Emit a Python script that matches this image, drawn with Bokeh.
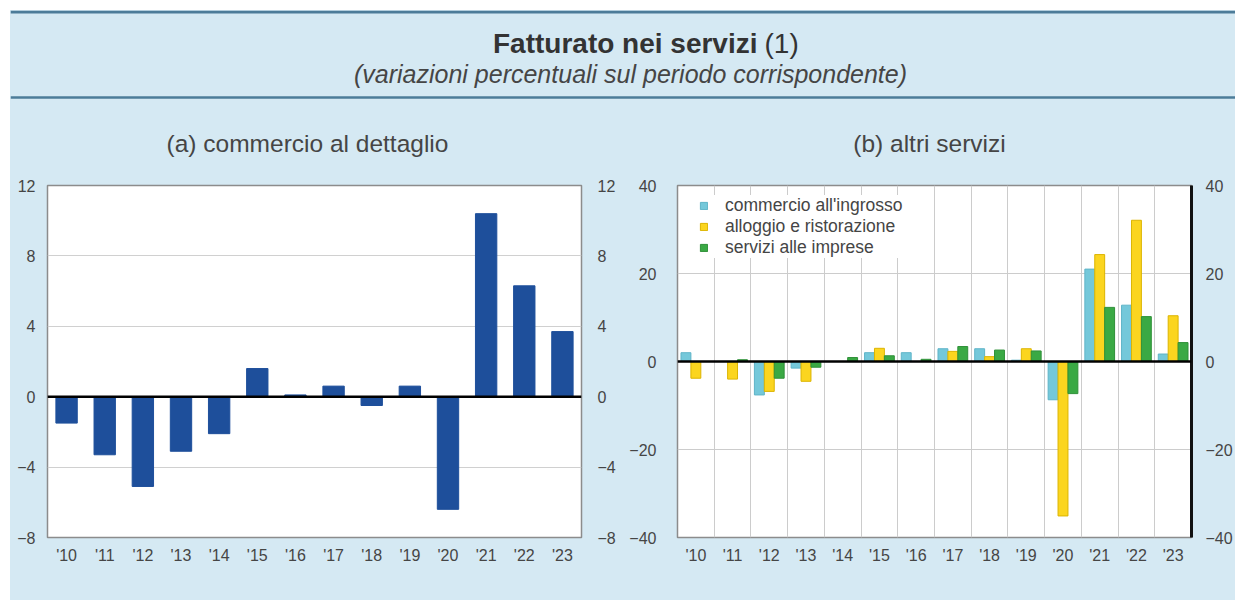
from bokeh.plotting import figure
from bokeh.models import Range1d, Span, Label, FixedTicker, Grid, LinearAxis, ColumnDataSource, Legend, LegendItem, Spacer
from bokeh.layouts import column, row
from bokeh.transform import dodge
from bokeh.embed import file_html
from bokeh.resources import INLINE

years = ["'10", "'11", "'12", "'13", "'14", "'15", "'16", "'17", "'18", "'19", "'20", "'21", "'22", "'23"]
retail = [-1.5, -3.3, -5.1, -3.1, -2.1, 1.6, 0.1, 0.6, -0.5, 0.6, -6.4, 10.4, 6.3, 3.7]
wholesale = [2.0, 0.0, -7.6, -1.5, 0.0, 2.0, 2.0, 2.9, 2.9, 0.3, -8.7, 21.0, 12.8, 1.7]
hospitality = [-3.8, -4.0, -6.8, -4.5, 0.0, 3.0, 0.0, 2.3, 1.1, 2.9, -35.1, 24.3, 32.1, 10.4]
business = [0.0, 0.4, -3.8, -1.3, 0.9, 1.3, 0.5, 3.4, 2.6, 2.4, -7.3, 12.3, 10.2, 4.3]
series_names = ["commercio all'ingrosso", "alloggio e ristorazione", "servizi alle imprese"]
left_ticks = [-8, -4, 0, 4, 8, 12]
right_ticks = [-40, -20, 0, 20, 40]

BG = "#d5e9f3"
LINE = "#4c7c99"
TXT = "#454545"
FONT = "Liberation Sans"
NAVY = "#1e4f9b"
CYAN = "#74c8da"
YELLOW = "#fbd51f"
GREEN = "#3aa944"

idx = list(range(len(years)))
src = ColumnDataSource(dict(x=idx, retail=retail, w=wholesale, h=hospitality, b=business))

# ---------- header (coordinates = page pixels) ----------
hdr = figure(width=1225, height=148, x_range=Range1d(10, 1235), y_range=Range1d(158, 10),
             toolbar_location=None, output_backend="svg", min_border=0)
hdr.axis.visible = False
hdr.grid.visible = False
hdr.outline_line_color = None
hdr.background_fill_color = BG
hdr.border_fill_color = BG
hdr.add_layout(Span(location=11.5, dimension="width", line_color=LINE, line_width=3))
hdr.add_layout(Span(location=97, dimension="width", line_color=LINE, line_width=2.5))
hdr.add_layout(Label(x=757, y=43, text="Fatturato nei servizi", text_align="right", text_baseline="middle",
                     text_font=FONT, text_font_style="bold", text_font_size="28px", text_color="#333333"))
hdr.add_layout(Label(x=764, y=43, text="(1)", text_align="left", text_baseline="middle",
                     text_font=FONT, text_font_size="28px", text_color="#333333"))
hdr.add_layout(Label(x=630, y=73, text="(variazioni percentuali sul periodo corrispondente)", text_align="center",
                     text_baseline="middle", text_font=FONT, text_font_style="italic", text_font_size="25px",
                     text_color=TXT))
hdr.add_layout(Label(x=307, y=143, text="(a) commercio al dettaglio", text_align="center", text_baseline="middle",
                     text_font=FONT, text_font_size="24.5px", text_color=TXT))
hdr.add_layout(Label(x=929, y=143, text="(b) altri servizi", text_align="center", text_baseline="middle",
                     text_font=FONT, text_font_size="24.5px", text_color=TXT))


def style_panel(p, yticks, left_standoff, right_standoff):
    p.background_fill_color = "white"
    p.border_fill_color = BG
    p.outline_line_color = "#8c8c8c"
    p.outline_line_width = 1.5
    p.xaxis.ticker = FixedTicker(ticks=idx)
    p.xaxis.major_label_overrides = {i: y for i, y in zip(idx, years)}
    for ax in p.xaxis + p.yaxis:
        ax.axis_line_color = None
        ax.major_tick_line_color = None
        ax.minor_tick_line_color = None
        ax.major_label_text_font = FONT
        ax.major_label_text_font_size = "16px"
        ax.major_label_text_color = TXT
    p.xaxis.major_label_standoff = 3
    p.yaxis.ticker = FixedTicker(ticks=yticks)
    p.yaxis.major_label_standoff = left_standoff
    ra = LinearAxis(ticker=FixedTicker(ticks=yticks), major_label_standoff=right_standoff,
                    axis_line_color=None, major_tick_line_color=None, minor_tick_line_color=None,
                    major_label_text_font=FONT, major_label_text_font_size="16px", major_label_text_color=TXT)
    p.add_layout(ra, "right")
    p.xgrid.visible = False
    p.add_layout(Span(location=0, dimension="width", line_color="black", line_width=2.5))
    return ra


# ---------- panel (a) ----------
pa = figure(width=608, height=442, x_range=Range1d(-0.5, 13.5), y_range=Range1d(-8, 12),
            toolbar_location=None, output_backend="svg",
            min_border_left=37, min_border_right=36, min_border_top=27, min_border_bottom=60)
style_panel(pa, left_ticks, 6, 10)
pa.ygrid.ticker = FixedTicker(ticks=[-4, 4, 8])
pa.ygrid.grid_line_color = "#d0d0d0"
pa.vbar(x="x", top="retail", width=0.56, source=src, fill_color=NAVY, line_color=NAVY)

# ---------- panel (b) ----------
pb = figure(width=617, height=442, x_range=Range1d(-0.5, 13.5), y_range=Range1d(-40, 40),
            toolbar_location=None, output_backend="svg",
            min_border_left=59, min_border_right=42, min_border_top=27, min_border_bottom=63)
ra = style_panel(pb, right_ticks, 15, 8)
ra.axis_line_color = "#111111"
ra.axis_line_width = 3
pb.ygrid.ticker = FixedTicker(ticks=[-20, 20])
pb.ygrid.grid_line_color = "#cccccc"
pb.add_layout(Grid(dimension=0, ticker=FixedTicker(ticks=[i + 0.5 for i in idx[:-1]]),
                   grid_line_color="#cccccc"))
bw = 0.27
r1 = pb.vbar(x=dodge("x", -bw, range=pb.x_range), top="w", width=bw, source=src,
             fill_color=CYAN, line_color="#5fb4c8")
r2 = pb.vbar(x=dodge("x", 0, range=pb.x_range), top="h", width=bw, source=src,
             fill_color=YELLOW, line_color="#dcb400")
r3 = pb.vbar(x=dodge("x", bw, range=pb.x_range), top="b", width=bw, source=src,
             fill_color=GREEN, line_color="#2f9038")
leg = Legend(items=[LegendItem(label=series_names[0], renderers=[r1]),
                    LegendItem(label=series_names[1], renderers=[r2]),
                    LegendItem(label=series_names[2], renderers=[r3])],
             location=(22, 279), margin=0, padding=5, spacing=0,
             glyph_width=9, glyph_height=9, label_height=20, label_standoff=17,
             label_text_font=FONT, label_text_font_size="17.5px", label_text_color=TXT,
             background_fill_color="white", background_fill_alpha=1.0, border_line_color=None)
pb.add_layout(leg)

panels = row(pa, pb, spacing=0, styles={"background-color": BG})
body = column(hdr, panels, spacing=0, styles={"background-color": BG})
layout = column(Spacer(height=10, width=1235),
                row(Spacer(width=10, height=590), body, spacing=0), spacing=0)
open("out.html", "w").write(file_html(layout, INLINE))
